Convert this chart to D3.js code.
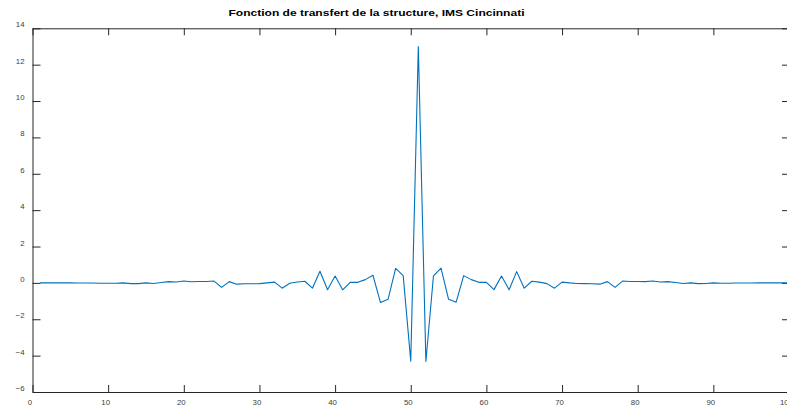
<!DOCTYPE html>
<html><head><meta charset="utf-8">
<script src="https://cdn.jsdelivr.net/npm/d3@7"></script>
<style>body{margin:0;background:#fff}svg{display:block}</style>
</head><body>
<svg id="c" width="787" height="407"></svg>
<script>
const title = "Fonction de transfert de la structure, IMS Cincinnati";
const xTicks = [0,10,20,30,40,50,60,70,80,90,100];
const yTicks = [-6,-4,-2,0,2,4,6,8,10,12,14];
const sampleIndex = d3.range(1, 102);
const transferValues = [
  0, 0, 0, 0, 0, -0.01, -0.01, -0.01, -0.02, -0.02,
  -0.02, 0.0, -0.04, -0.04, 0.0, -0.03, 0.02, 0.07, 0.05, 0.1,
  0.06, 0.08, 0.08, 0.1, -0.25, 0.07, -0.07, -0.05, -0.05, -0.04,
  0.0, 0.04, -0.29, -0.02, 0.05, 0.09, -0.29, 0.64, -0.38, 0.38,
  -0.38, 0.03, 0.03, 0.18, 0.42, -1.08, -0.9, 0.8, 0.4, -4.3,
  13.0,
  -4.32, 0.38, 0.81, -0.9, -1.06, 0.4, 0.18, 0.03, 0.03, -0.37,
  0.38, -0.38, 0.62, -0.29, 0.09, 0.04, -0.04, -0.29, 0.04, 0.0,
  -0.03, -0.04, -0.05, -0.07, 0.07, -0.25, 0.1, 0.08, 0.08, 0.07,
  0.1, 0.05, 0.07, 0.02, -0.03, 0.0, -0.04, -0.03, 0.0, -0.02,
  -0.02, -0.01, -0.01, -0.01, 0, 0, 0, 0, 0, 0
];

const svg = d3.select("#c");
const font = "'Liberation Sans', Arial, Helvetica, sans-serif";
const pLeft = 32.5, pRight = 789, pTop = 28.3, pBottom = 392;
const x = d3.scaleLinear().domain([0,100]).range([pLeft, pRight]);
const y = d3.scaleLinear().domain([-6,14]).range([pBottom, pTop]);
const axisColor = "#262626";

function style(g, labels){
  g.select(".domain").attr("stroke", axisColor).attr("stroke-width", 1);
  g.selectAll(".tick line").attr("stroke", axisColor).attr("stroke-width", 1);
  g.selectAll(".tick text").attr("fill", "#404040").style("font-family", font).style("font-size", "7.8px");
  if (!labels) g.selectAll(".tick text").remove();
}

const gb = svg.append("g").attr("transform", `translate(0,${pBottom})`)
  .call(d3.axisBottom(x).tickValues(xTicks).tickSizeInner(-7).tickSizeOuter(0).tickPadding(7));
style(gb, true);
gb.selectAll(".tick text").attr("dx", -3);

const gt = svg.append("g").attr("transform", `translate(0,${pTop})`)
  .call(d3.axisTop(x).tickValues(xTicks).tickSizeInner(-7).tickSizeOuter(0));
style(gt, false);

const gl = svg.append("g").attr("transform", `translate(${pLeft},0)`)
  .call(d3.axisLeft(y).tickValues(yTicks).tickSizeInner(-8).tickSizeOuter(0).tickPadding(8));
style(gl, true);
gl.selectAll(".tick text").attr("y", -4);

const gr = svg.append("g").attr("transform", `translate(${pRight},0)`)
  .call(d3.axisRight(y).tickValues(yTicks).tickSizeInner(-7).tickSizeOuter(0));
style(gr, false);

const line = d3.line().x((d,i)=>x(sampleIndex[i])).y(d=>y(d));
svg.append("path").datum(transferValues)
  .attr("d", line).attr("fill","none").attr("stroke","#0072BD").attr("stroke-width",1.1)
  .attr("stroke-linejoin","round");

svg.append("text").attr("x", 376.5).attr("y", 16).attr("text-anchor","middle")
  .style("font-family", font).style("font-size","9px").style("font-weight","bold")
  .attr("textLength", 296).attr("lengthAdjust", "spacingAndGlyphs")
  .attr("fill","#000").text(title);
</script>
</body></html>
